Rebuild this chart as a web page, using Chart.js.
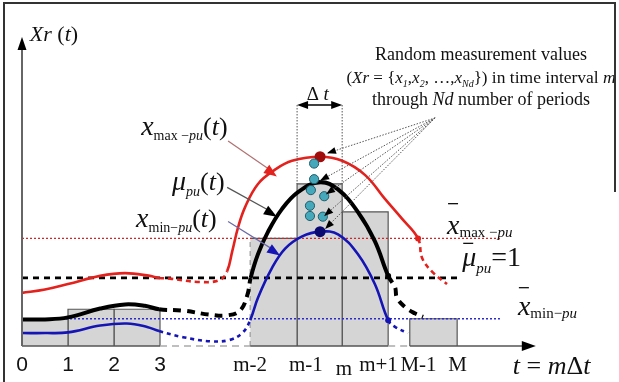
<!DOCTYPE html>
<html>
<head>
<meta charset="utf-8">
<script src="https://cdn.jsdelivr.net/npm/chart.js@4.4.1/dist/chart.umd.min.js"></script>
<style>
html, body { margin: 0; padding: 0; background: #fff; }
#wrap { position: relative; width: 619px; height: 382px; overflow: hidden; }
#chart { position: absolute; left: 0; top: 0; }
#frame { position: absolute; left: 3px; top: 2px; width: 611px; height: 400px; border-top: 2px solid #333; border-left: 2px solid #333; pointer-events: none; }
#frameR { position: absolute; left: 614px; top: 2px; height: 190px; border-left: 2px solid #333; pointer-events: none; }
</style>
</head>
<body>
<div id="wrap">
  <canvas id="chart" width="619" height="382"></canvas>
  <div id="frame"></div>
  <div id="frameR"></div>
</div>
<script>
// =======================================
// DATA  (x: one unit = one interval Δt, y: per-unit, mean = 1)
// =======================================

const tickPos  = [0, 1, 2, 3, 4.96, 6.17, 7, 7.75, 8.62, 9.47];
const tickText = ["0", "1", "2", "3", "m-2", "m-1", "m", "m+1", "M-1", "M"];

// interval means (grey bars)
const barStart  = [0, 1, 2, 4.96, 5.98, 6.96, 8.43];
const barEnd    = [1, 2, 3, 5.98, 6.96, 7.96, 9.46];
const barHeight = [0.40, 0.54, 0.54, 1.58, 2.38, 1.97, 0.40];

// reference levels
const levelMax  = 1.58;
const levelMean = 1;
const levelMin  = 0.40;

// x_max-pu(t)
const maxX = [0, 0.5, 1, 1.7, 2.24, 2.78, 2.98, 3.22, 3.87, 4.3, 4.46, 4.57, 4.7, 4.85, 5.13, 5.5, 5.87, 6.48, 6.96, 7.46, 7.89, 8.26, 8.61, 8.7, 8.93, 9.24];
const maxY = [0.78, 0.83, 0.91, 1.03, 1.07, 1.03, 1.0, 0.99, 0.94, 0.97, 1.10, 1.39, 1.75, 2.04, 2.38, 2.59, 2.72, 2.78, 2.72, 2.51, 2.16, 1.87, 1.58, 1.29, 1.08, 0.91];

// mu_pu(t)
const muX = [0, 0.5, 1, 1.7, 2.24, 2.67, 2.98, 3.5, 4.09, 4.46, 4.74, 4.9, 4.97, 5.13, 5.35, 5.65, 6.0, 6.48, 6.87, 7.3, 7.67, 7.96, 8.11, 8.15, 8.33, 8.54, 8.72];
const muY = [0.39, 0.39, 0.42, 0.55, 0.61, 0.59, 0.54, 0.52, 0.46, 0.45, 0.52, 0.75, 1.0, 1.35, 1.68, 2.01, 2.26, 2.41, 2.30, 1.97, 1.54, 1.03, 0.86, 0.71, 0.57, 0.48, 0.43];

// x_min-pu(t)
const minX = [0, 0.5, 1, 1.7, 2.28, 2.72, 2.98, 3.5, 4.09, 4.52, 4.8, 4.96, 5.13, 5.43, 5.72, 6.09, 6.48, 6.87, 7.3, 7.67, 7.96, 8.11, 8.39];
const minY = [0.19, 0.19, 0.20, 0.30, 0.33, 0.28, 0.22, 0.13, 0.07, 0.09, 0.20, 0.38, 0.71, 1.14, 1.43, 1.61, 1.68, 1.64, 1.35, 0.91, 0.38, 0.28, 0.19];

// random measurements in interval m
const measX = [6.35, 6.35, 6.28, 6.57, 6.26, 6.26, 6.54];
const measY = [2.68, 2.45, 2.29, 2.20, 2.06, 1.91, 1.90];

// parts of the curves that are only sketched (dashed)
const maxGaps = [[2.98, 4.46], [8.61, 99]];
const muGaps  = [[2.98, 4.97], [7.96, 99]];
const minGaps = [[2.98, 4.96], [7.96, 99]];


// =======================================
// HELPERS
// =======================================

const SERIF = '"Liberation Serif", "Times New Roman", serif';
const N = s => s + "px " + SERIF;
const I = s => "italic " + s + "px " + SERIF;

const toXY = (xs, ys) => xs.map((x, i) => ({ x: x, y: ys[i] }));

function curve(xs, ys, gaps, color, width, dash, peakColor) {
    const peak = ys.indexOf(Math.max(...ys));
    const end = xs.indexOf(gaps[gaps.length - 1][0]);
    return {
        type: "line",
        data: toXY(xs, ys),
        borderColor: color,
        borderWidth: width,
        tension: 0.4,
        pointRadius: ctx => (peakColor && ctx.dataIndex === peak) ? 5.5 : (ctx.dataIndex === end ? 3 : 0),
        pointBackgroundColor: ctx => ctx.dataIndex === peak ? peakColor : color,
        pointBorderWidth: 0,
        segment: {
            borderDash: ctx => {
                const a = xs[ctx.p0DataIndex], b = xs[ctx.p1DataIndex];
                return gaps.some(g => a >= g[0] - 1e-6 && b <= g[1] + 1e-6) ? dash : undefined;
            }
        },
        order: 1
    };
}

function level(y, xEnd, color, width, dash) {
    return {
        type: "line",
        data: [{ x: 0, y: y }, { x: xEnd, y: y }],
        borderColor: color,
        borderWidth: width,
        borderDash: dash,
        pointRadius: 0,
        order: 2
    };
}

const bars = barStart.map((x0, i) => ({
    type: "line",
    data: [
        { x: x0, y: 0 }, { x: x0, y: barHeight[i] },
        { x: barEnd[i], y: barHeight[i] }, { x: barEnd[i], y: 0 }
    ],
    borderColor: "#555",
    borderWidth: 1.2,
    backgroundColor: "#d5d5d5",
    fill: "origin",
    pointRadius: 0,
    segment: {
        // left edge of the m-2 bar is dashed
        borderDash: ctx => (i === 3 && ctx.p0DataIndex === 0) ? [5, 4] : undefined,
        borderColor: ctx => (i === 3 && ctx.p0DataIndex === 0) ? "#999" : undefined
    },
    order: 4
}));


// text with sub-/superscript runs: [text, font, dy]
function runs(c, x, y, parts, center) {
    let w = 0;
    parts.forEach(p => { c.font = p[1]; w += c.measureText(p[0]).width; });
    let cx = center ? x - w / 2 : x;
    parts.forEach(p => {
        c.font = p[1];
        c.fillText(p[0], cx, y + (p[2] || 0));
        cx += c.measureText(p[0]).width;
    });
}

function line(c, x1, y1, x2, y2, color, width, dash) {
    c.save();
    c.strokeStyle = color;
    c.lineWidth = width;
    c.setLineDash(dash || []);
    c.beginPath();
    c.moveTo(x1, y1);
    c.lineTo(x2, y2);
    c.stroke();
    c.restore();
}

function head(c, x1, y1, x2, y2, len, wid, color) {
    const a = Math.atan2(y2 - y1, x2 - x1);
    const bx = x2 - len * Math.cos(a), by = y2 - len * Math.sin(a);
    c.save();
    c.fillStyle = color;
    c.beginPath();
    c.moveTo(x2, y2);
    c.lineTo(bx + wid * Math.sin(a), by - wid * Math.cos(a));
    c.lineTo(bx - wid * Math.sin(a), by + wid * Math.cos(a));
    c.closePath();
    c.fill();
    c.restore();
}


// =======================================
// AXES, ARROWS AND LABELS
// =======================================

const sketch = {
    id: "sketch",
    afterDatasetsDraw(chart) {
        const c = chart.ctx;
        const X = u => chart.scales.x.getPixelForValue(u);
        const Y = v => chart.scales.y.getPixelForValue(v);
        c.save();
        c.fillStyle = "#111";
        c.textBaseline = "alphabetic";

        // time axis
        [[0, 3], [4.96, 7.96], [8.43, 11.0]].forEach(s => line(c, X(s[0]), Y(0), X(s[1]), Y(0), "#555", 1.6));
        [[3, 4.96], [7.96, 8.43]].forEach(s => line(c, X(s[0]), Y(0), X(s[1]), Y(0), "#aaa", 1.6, [7, 5]));
        head(c, X(10.5), Y(0), X(11.17), Y(0), 14, 5, "#000");

        // value axis
        line(c, X(0), Y(0), X(0), Y(4.35), "#666", 2);
        head(c, X(0), Y(4), X(0), Y(4.54), 13, 4.5, "#000");
        runs(c, X(0.17), Y(4.48), [["Xr", I(22)], [" (", N(22)], ["t", I(22)], [")", N(22)]]);

        // Δt bracket
        line(c, X(5.98), Y(3.54), X(5.98), Y(2.38), "#555", 1, [1.5, 1.5]);
        line(c, X(6.96), Y(3.54), X(6.96), Y(2.38), "#555", 1, [1.5, 1.5]);
        line(c, X(6.2), Y(3.54), X(6.74), Y(3.54), "#000", 1.5);
        head(c, X(6.4), Y(3.54), X(5.98), Y(3.54), 11, 4, "#000");
        head(c, X(6.5), Y(3.54), X(6.96), Y(3.54), 11, 4, "#000");
        runs(c, X(6.43), Y(3.61), [["Δ ", N(19)], ["t", I(19)]], true);

        // description of the measurements
        runs(c, X(9.98), Y(4.20), [["Random measurement values", N(18)]], true);
        runs(c, X(9.98), Y(3.87), [
            ["(", N(17)], ["Xr", I(17)], [" = {", N(17)], ["x", I(17)], ["1", I(10), 4], [",", N(17)],
            ["x", I(17)], ["2", I(10), 4], [", …,", N(17)], ["x", I(17)], ["Nd", I(10), 4], ["})", N(17)],
            [" in time interval ", N(17.5)], ["m", I(17.5)]
        ], true);
        runs(c, X(9.98), Y(3.54), [["through ", N(18)], ["Nd", I(18)], [" number of periods", N(18)]], true);

        // dotted pointers to the measurements
        const src = [8.98, 3.35];
        [[6.63, 2.83], [6.48, 2.43], [6.61, 2.23], [6.57, 1.91], [6.59, 1.72]].forEach(t => {
            line(c, X(src[0]), Y(src[1]), X(t[0]), Y(t[1]), "#555", 1, [1.5, 1.5]);
            head(c, X(src[0]), Y(src[1]), X(t[0]), Y(t[1]), 9, 3.5, "#000");
        });

        // curve names with pointers
        runs(c, X(2.59), Y(3.10), [["x", I(28)], ["max −", N(14), 5], ["pu", I(14), 5], ["(", N(26)], ["t", I(26)], [")", N(26)]]);
        runs(c, X(3.26), Y(2.29), [["μ", I(28)], ["pu", I(14), 6], ["(", N(26)], ["t", I(26)], [")", N(26)]]);
        runs(c, X(2.48), Y(1.75), [["x", I(28)], ["min−", N(14), 5], ["pu", I(14), 5], ["(", N(26)], ["t", I(26)], [")", N(26)]]);

        line(c, X(4.48), Y(3.01), X(5.45), Y(2.56), "#b07070", 1.2);
        head(c, X(4.48), Y(3.01), X(5.54), Y(2.49), 13, 5, "#e3211d");
        line(c, X(4.46), Y(2.33), X(5.45), Y(1.96), "#555", 1.2);
        head(c, X(4.46), Y(2.33), X(5.54), Y(1.90), 13, 5, "#000");
        line(c, X(4.48), Y(1.83), X(5.52), Y(1.39), "#6a6aa8", 1.2);
        head(c, X(4.48), Y(1.83), X(5.61), Y(1.33), 13, 5, "#1515b5");

        // level names
        const bar = (u, v, dy) => line(c, X(u) + 1, Y(v) - dy, X(u) + 11, Y(v) - dy, "#111", 1.3);
        runs(c, X(9.24), Y(1.65), [["x", I(28)], ["max −", N(15), 3], ["pu", I(15), 3]]);
        bar(9.24, 1.65, 30);
        runs(c, X(9.57), Y(1.17), [["μ", I(28)], ["pu", I(15), 7], ["=1", N(28)]]);
        bar(9.57, 1.17, 23);
        runs(c, X(10.78), Y(0.46), [["x", I(28)], ["min−", N(15), 3], ["pu", I(15), 3]]);
        bar(10.78, 0.46, 27);

        // axis name
        runs(c, X(10.67), Y(-0.41), [["t", I(26)], [" = ", N(26)], ["m", I(26)], ["Δ", N(26)], ["t", I(26)]]);

        c.restore();
    }
};


// =======================================
// CHART
// =======================================

new Chart(document.getElementById("chart"), {
    type: "line",
    data: {
        datasets: [
            {
                type: "line",
                data: toXY(measX, measY),
                showLine: false,
                pointRadius: 4.6,
                pointBackgroundColor: "#46a9bb",
                pointBorderColor: "#1f5e6c",
                pointBorderWidth: 1,
                order: 0
            },
            curve(maxX, maxY, maxGaps, "#e3211d", 2.6, [5, 4], "#a00d0d"),
            curve(muX, muY, muGaps, "#000", 4, [8, 6], null),
            curve(minX, minY, minGaps, "#1515b5", 2.6, [4, 4], "#0a0a70"),
            level(levelMax, 10.43, "#d42424", 1.3, [2, 2]),
            level(levelMean, 9.46, "#000", 2.6, [6, 5]),
            level(levelMin, 10.39, "#2a2ad0", 1.3, [2, 2]),
            ...bars
        ]
    },
    options: {
        responsive: false,
        animation: false,
        events: [],
        layout: { padding: { left: 22, right: 22, top: 1, bottom: 0 } },
        plugins: {
            legend: { display: false },
            tooltip: { enabled: false }
        },
        scales: {
            x: {
                type: "linear",
                min: 0,
                max: 12.5,
                grid: { display: false, drawTicks: false },
                border: { display: false },
                afterBuildTicks: s => { s.ticks = tickPos.map(v => ({ value: v })); },
                afterFit: s => { s.height = 36; },
                ticks: {
                    autoSkip: false,
                    maxRotation: 0,
                    padding: 7,
                    color: "#111",
                    callback: (v, i) => tickText[i],
                    font: ctx => {
                        const t = tickText[ctx.index] || "";
                        if (/^\d$/.test(t)) {
                            return { family: '"Liberation Sans", Arial, sans-serif', size: 21, lineHeight: 1.2 };
                        }
                        return { family: SERIF, size: 21, lineHeight: t === "m" ? 1.55 : 1.2 };
                    }
                }
            },
            y: {
                type: "linear",
                min: 0,
                max: 5,
                display: false
            }
        }
    },
    plugins: [sketch]
});
</script>
</body>
</html>
